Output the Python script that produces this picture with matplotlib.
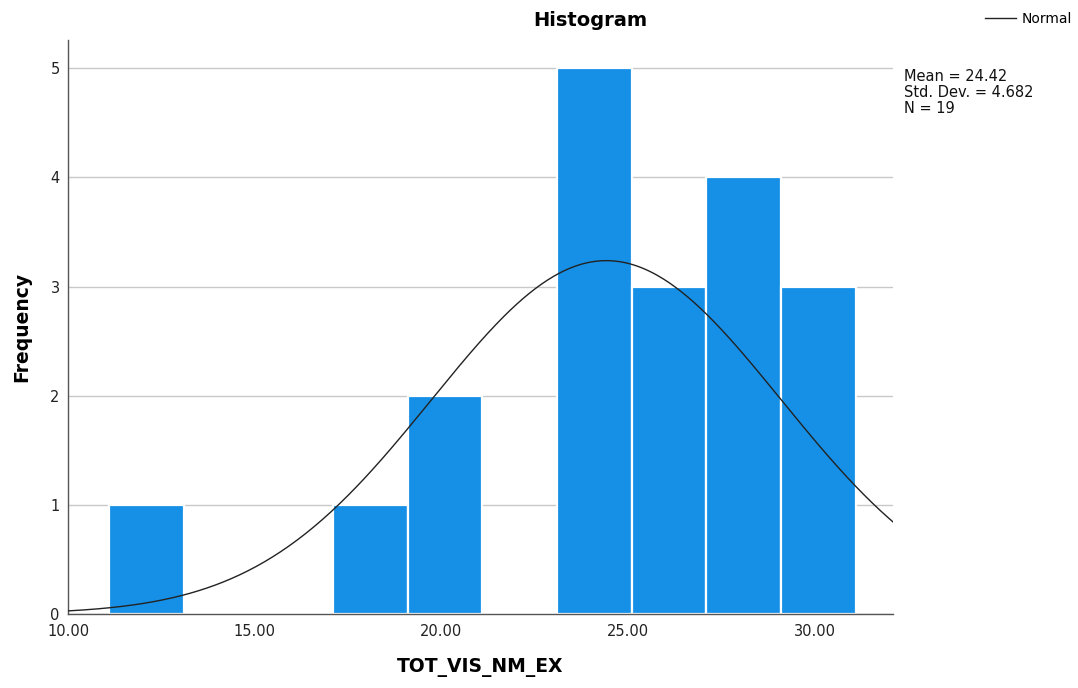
import numpy as np
import matplotlib.pyplot as plt

# binned frequencies of TOT_VIS_NM_EX (bin width 2)
bin_lefts = [11.1, 13.1, 15.1, 17.1, 19.1, 21.1, 23.1, 25.1, 27.1, 29.1]
counts = [1, 0, 0, 1, 2, 0, 5, 3, 4, 3]
bin_width = 2.0

mean = 24.42
std_dev = 4.682
n_obs = 19

x_ticks = [10, 15, 20, 25, 30]
x_tick_labels = ["10.00", "15.00", "20.00", "25.00", "30.00"]
y_ticks = [0, 1, 2, 3, 4, 5]

bar_color = "#1590E6"

fig = plt.figure(figsize=(10.78, 6.88), dpi=100)
ax = fig.add_axes([0.0631, 0.1076, 0.7653, 0.8343])

ax.bar(bin_lefts, counts, width=bin_width, align="edge", color=bar_color,
       edgecolor="white", linewidth=1.6, zorder=2)

# normal curve scaled to counts
xs = np.linspace(10, 32.1, 400)
ys = n_obs * bin_width / (std_dev * np.sqrt(2 * np.pi)) * np.exp(-0.5 * ((xs - mean) / std_dev) ** 2)
normal_line, = ax.plot(xs, ys, color="#222222", linewidth=1.0, zorder=3)

ax.set_xlim(10, 32.1)
ax.set_ylim(0, 5.26)
ax.set_xticks(x_ticks)
ax.set_xticklabels(x_tick_labels)
ax.set_yticks(y_ticks)
ax.tick_params(axis="both", length=0, labelsize=10.5, colors="#222222")
ax.tick_params(axis="x", pad=7)
ax.tick_params(axis="y", pad=6)

ax.yaxis.grid(True, color="#c8c8c8", linewidth=1.0, zorder=0)
ax.set_axisbelow(True)
for side in ["top", "right"]:
    ax.spines[side].set_visible(False)
for side in ["left", "bottom"]:
    ax.spines[side].set_color("#555555")
    ax.spines[side].set_linewidth(1.0)

ax.set_xlabel("TOT_VIS_NM_EX", fontsize=13.5, fontweight="bold", labelpad=14)
ax.set_ylabel("Frequency", fontsize=13.5, fontweight="bold", labelpad=14)

fig.text(0.548, 0.97, "Histogram", ha="center", va="center", fontsize=14, fontweight="bold")

# stats box beside the plot
fig.text(0.8385, 0.899, "Mean = %.2f\nStd. Dev. = %.3f\nN = %d" % (mean, std_dev, n_obs),
         ha="left", va="top", fontsize=10.5, linespacing=1.05, color="#111111")

fig.legend([normal_line], ["Normal"], loc="center right", bbox_to_anchor=(1.006, 0.972),
           frameon=False, fontsize=10, handlelength=2.2, handletextpad=0.4)

fig.savefig("out.png", dpi=100)
